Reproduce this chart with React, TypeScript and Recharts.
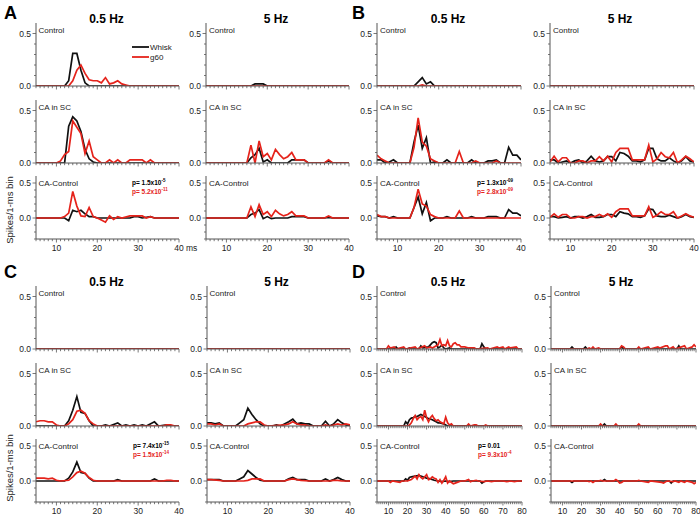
// spike histograms, whisk vs g60, four blocks A-D

import React from 'react';
import { LineChart, Line, XAxis, YAxis } from 'recharts';

type Pt = [number, number];

const msTicks = [10, 20, 30, 40];
const msTicksLong = [10, 20, 30, 40, 50, 60, 70, 80];
const yTicksTop = [0, 0.1, 0.2, 0.3, 0.4, 0.5];
const yTicksDiff = [-0.3, -0.2, -0.1, 0, 0.1, 0.2, 0.3, 0.4, 0.5];
const rowLabels = ['Control', 'CA in SC', 'CA-Control'];
const freqLabels = ['0.5 Hz', '5 Hz'];
const seriesNames = ['Whisk', 'g60'];
const blockLetters = ['A', 'B', 'C', 'D'];

// ---- A ----
const aSlowCtrlWhisk: Pt[] = [[5, 0], [12, 0], [13, 0.05], [14, 0.31], [15, 0.31], [16, 0.15], [17, 0.03], [18, 0], [40, 0]];
const aSlowCtrlG60: Pt[] = [[5, 0], [13, 0], [14, 0.05], [15, 0.15], [16, 0.2], [17, 0.12], [18, 0.06], [19, 0.05], [20, 0.05], [21, 0.03], [22, 0.08], [23, 0.02], [24, 0.03], [25, 0.05], [26, 0.02], [27, 0.01], [28, 0], [40, 0]];
const aSlowCaWhisk: Pt[] = [[5, 0], [12, 0], [13, 0.35], [14, 0.44], [15, 0.4], [16, 0.3], [17, 0.13], [18, 0.04], [19, 0.01], [20, 0], [40, 0]];
const aSlowCaG60: Pt[] = [[5, 0], [10, 0], [11, 0.02], [12, 0.08], [13, 0.11], [14, 0.4], [15, 0.34], [16, 0.28], [17, 0.09], [18, 0.21], [19, 0.06], [20, 0.03], [21, 0], [22, 0], [23, 0.03], [24, 0], [25, 0.03], [26, 0], [27, 0], [28, 0.03], [29, 0.03], [30, 0.03], [31, 0.03], [32, 0], [33, 0.03], [34, 0], [40, 0]];
const aSlowDiffWhisk: Pt[] = [[5, 0], [12, 0], [13, -0.04], [14, 0.11], [15, 0.09], [16, 0.11], [17, 0.06], [18, 0.02], [19, 0.02], [20, 0], [28, 0], [29, 0.02], [30, 0.02], [31, 0], [33, 0.02], [34, 0], [40, 0]];
const aSlowDiffG60: Pt[] = [[5, 0], [11, 0], [12, 0.02], [13, 0.07], [14, 0.38], [15, 0.17], [16, 0.03], [17, 0.02], [18, 0.15], [19, 0.02], [20, 0], [21, -0.03], [22, -0.06], [23, 0.03], [24, -0.02], [25, 0.02], [26, 0], [28, 0.03], [29, 0.03], [30, 0.03], [31, 0.03], [32, 0], [33, 0.02], [34, 0], [40, 0]];

const aFastCtrlWhisk: Pt[] = [[5, 0], [16, 0], [17, 0.02], [18, 0.02], [19, 0.02], [20, 0], [40, 0]];
const aFastCtrlG60: Pt[] = [[5, 0], [40, 0]];
const aFastCaWhisk: Pt[] = [[5, 0], [15, 0], [16, 0.05], [17, 0.08], [18, 0.14], [19, 0.01], [20, 0.03], [21, 0], [25, 0], [26, 0.03], [27, 0.03], [29, 0.03], [30, 0], [34, 0], [35, 0.02], [36, 0], [40, 0]];
const aFastCaG60: Pt[] = [[5, 0], [15, 0], [16, 0.17], [17, 0], [18, 0.21], [19, 0.06], [20, 0.09], [21, 0.03], [22, 0.13], [23, 0.08], [24, 0.04], [25, 0.06], [26, 0.1], [27, 0.03], [28, 0.03], [29, 0.03], [30, 0], [34, 0], [35, 0.03], [36, 0], [40, 0]];
const aFastDiffWhisk: Pt[] = [[5, 0], [15, 0], [16, 0.05], [17, 0.07], [18, 0.12], [19, -0.01], [20, 0.02], [21, -0.01], [22, 0], [25, 0], [26, 0.02], [27, 0.02], [29, 0.02], [30, 0], [34, 0], [35, 0.01], [36, 0], [40, 0]];
const aFastDiffG60: Pt[] = [[5, 0], [15, 0], [16, 0.16], [17, 0.02], [18, 0.19], [19, 0.05], [20, 0.09], [21, 0.02], [22, 0.11], [23, 0.06], [24, 0.03], [25, 0.05], [26, 0.09], [27, 0.03], [28, 0.03], [29, 0.03], [30, 0], [34, 0], [35, 0.03], [36, 0], [40, 0]];

// ---- B ----
const bSlowCtrlWhisk: Pt[] = [[5, 0], [14, 0], [15, 0.04], [16, 0.08], [17, 0.02], [18, 0.04], [19, 0], [40, 0]];
const bSlowCtrlG60: Pt[] = [[5, 0], [15, 0], [16, 0.01], [17, 0], [40, 0]];
const bSlowCaWhisk: Pt[] = [[5, 0.03], [6, 0.03], [7, 0], [8, 0.01], [9, 0.03], [10, 0], [13, 0], [14, 0.2], [15, 0.36], [16, 0.14], [17, 0.24], [18, 0], [19, 0.01], [20, 0], [21, 0], [22, 0.03], [23, 0], [27, 0], [28, 0.03], [29, 0], [31, 0], [32, 0.02], [33, 0.02], [34, 0.03], [35, 0], [36, 0], [37, 0.15], [38, 0.075], [39, 0.075], [40, 0.03]];
const bSlowCaG60: Pt[] = [[5, 0.075], [6, 0.04], [7, 0.02], [8, 0], [13, 0], [14, 0.15], [15, 0.43], [16, 0.2], [17, 0.16], [18, 0.04], [19, 0.02], [20, 0], [24, 0], [25, 0.11], [26, 0], [28, 0], [29, 0.02], [30, 0], [33, 0], [34, 0.02], [35, 0], [40, 0]];
const bSlowDiffWhisk: Pt[] = [[5, 0.03], [6, 0.02], [7, 0.02], [8, 0], [9, 0.02], [10, 0], [13, 0], [14, 0.15], [15, 0.3], [16, 0.06], [17, 0.22], [18, -0.04], [19, 0], [21, 0], [22, 0.02], [23, 0], [27, 0], [28, 0.02], [29, 0], [31, 0], [32, 0.02], [34, 0.02], [35, 0], [36, 0], [37, 0.12], [38, 0.07], [39, 0.07], [40, 0.03]];
const bSlowDiffG60: Pt[] = [[5, 0.05], [6, 0.02], [7, 0.02], [8, 0], [13, 0], [14, 0.15], [15, 0.41], [16, 0.2], [17, 0.17], [18, 0.05], [19, 0.02], [20, 0], [24, 0], [25, 0.1], [26, 0], [40, 0]];

const bFastCtrlWhisk: Pt[] = [[5, 0], [40, 0]];
const bFastCtrlG60: Pt[] = [[5, 0], [40, 0]];
const bFastCaWhisk: Pt[] = [[5, 0.03], [6, 0.03], [7, 0], [8, 0.01], [9, 0.02], [10, 0], [11, 0.02], [12, 0.03], [13, 0], [14, 0.02], [15, 0.065], [16, 0.02], [17, 0.01], [18, 0.02], [19, 0.06], [20, 0.06], [21, 0.02], [22, 0.1], [23, 0.09], [24, 0.065], [25, 0.02], [26, 0.02], [27, 0.01], [28, 0.03], [29, 0.14], [30, 0.14], [31, 0.04], [32, 0.02], [33, 0.02], [34, 0.05], [35, 0.02], [36, 0], [37, 0.02], [38, 0.06], [39, 0.02], [40, 0.01]];
const bFastCaG60: Pt[] = [[5, 0.01], [6, 0.065], [7, 0.01], [8, 0.05], [9, 0.05], [10, 0], [11, 0], [12, 0.02], [13, 0.02], [14, 0], [15, 0.02], [16, 0.02], [17, 0.06], [18, 0.02], [19, 0.065], [20, 0.01], [21, 0.1], [22, 0.14], [23, 0.14], [24, 0.14], [25, 0.03], [26, 0.03], [27, 0.03], [28, 0.03], [29, 0.17], [30, 0.01], [31, 0.04], [32, 0.1], [33, 0.06], [34, 0.05], [35, 0.1], [36, 0], [37, 0.03], [38, 0.065], [39, 0.04], [40, 0.01]];
const bFastDiffWhisk: Pt[] = [[5, 0.02], [6, 0.02], [7, 0], [8, 0.01], [9, 0.02], [10, 0], [11, 0.02], [12, 0.02], [13, 0], [14, 0.02], [15, 0.05], [16, 0.01], [17, 0.01], [18, 0.02], [19, 0.05], [20, 0.05], [21, 0.02], [22, 0.09], [23, 0.07], [24, 0.06], [25, 0.02], [26, 0.02], [27, 0.01], [28, 0.03], [29, 0.13], [30, 0.12], [31, 0.03], [32, 0.02], [33, 0.02], [34, 0.04], [35, 0.02], [36, 0], [37, 0.02], [38, 0.05], [39, 0.02], [40, 0.01]];
const bFastDiffG60: Pt[] = [[5, 0.01], [6, 0.06], [7, 0.01], [8, 0.05], [9, 0.05], [10, 0], [11, 0], [12, 0.02], [13, 0.02], [14, 0], [15, 0.02], [16, 0.02], [17, 0.05], [18, 0.02], [19, 0.06], [20, 0.01], [21, 0.09], [22, 0.13], [23, 0.13], [24, 0.13], [25, 0.03], [26, 0.03], [27, 0.03], [28, 0.03], [29, 0.16], [30, 0.01], [31, 0.04], [32, 0.09], [33, 0.05], [34, 0.05], [35, 0.09], [36, 0], [37, 0.03], [38, 0.06], [39, 0.03], [40, 0.01]];

// ---- C ----
const cSlowCtrlWhisk: Pt[] = [[5, 0], [40, 0]];
const cSlowCtrlG60: Pt[] = [[5, 0], [40, 0]];
const cSlowCaWhisk: Pt[] = [[5, 0], [12, 0], [13, 0.05], [14, 0.15], [15, 0.28], [16, 0.13], [17, 0.12], [18, 0.05], [19, 0], [21, 0], [22, 0.01], [23, 0], [25, 0.03], [26, 0], [27, 0.01], [28, 0], [29, 0.01], [30, 0], [31, 0.01], [32, 0], [34, 0.04], [35, 0], [37, 0.01], [38, 0], [40, 0]];
const cSlowCaG60: Pt[] = [[5, 0.04], [6, 0.05], [7, 0.05], [8, 0.04], [9, 0.04], [10, 0.01], [11, 0], [12, 0], [13, 0.02], [14, 0.06], [15, 0.14], [16, 0.15], [17, 0.12], [18, 0.05], [19, 0.02], [20, 0], [36, 0], [37, 0.01], [38, 0.01], [39, 0], [40, 0]];
const cSlowDiffWhisk: Pt[] = [[5, 0], [12, 0], [13, 0.04], [14, 0.13], [15, 0.27], [16, 0.12], [17, 0.11], [18, 0.04], [19, 0], [24, 0], [25, 0.02], [26, 0], [33, 0], [34, 0.03], [35, 0], [40, 0]];
const cSlowDiffG60: Pt[] = [[5, 0.04], [7, 0.04], [8, 0.03], [9, 0.04], [10, 0.01], [11, 0], [13, 0.01], [14, 0.06], [15, 0.12], [16, 0.14], [17, 0.11], [18, 0.05], [19, 0.01], [20, 0], [36, 0], [37, 0.01], [38, 0.01], [39, 0], [40, 0]];

const cFastCtrlWhisk: Pt[] = [[5, 0], [40, 0]];
const cFastCtrlG60: Pt[] = [[5, 0], [40, 0]];
const cFastCaWhisk: Pt[] = [[5, 0.03], [6, 0.03], [7, 0.02], [8, 0.03], [9, 0], [12, 0], [13, 0.03], [14, 0.06], [15, 0.17], [16, 0.11], [17, 0.06], [18, 0.02], [19, 0], [21, 0], [22, 0.01], [23, 0], [25, 0.04], [26, 0.065], [27, 0.02], [28, 0.03], [29, 0.02], [30, 0.02], [31, 0], [33, 0], [34, 0.045], [35, 0], [36, 0.02], [37, 0.06], [38, 0.03], [39, 0.01], [40, 0]];
const cFastCaG60: Pt[] = [[5, 0.02], [6, 0.02], [7, 0.01], [8, 0.02], [9, 0], [14, 0], [15, 0.02], [16, 0.03], [17, 0.04], [18, 0.04], [19, 0.01], [20, 0], [24, 0.01], [25, 0.02], [26, 0.04], [27, 0.02], [28, 0.01], [29, 0.01], [30, 0], [33, 0], [34, 0.01], [35, 0], [36, 0.01], [37, 0.02], [38, 0.01], [39, 0.02], [40, 0.01]];
const cFastDiffWhisk: Pt[] = [[5, 0.02], [8, 0.02], [9, 0], [12, 0], [13, 0.03], [14, 0.06], [15, 0.15], [16, 0.1], [17, 0.05], [18, 0.01], [19, 0], [24, 0], [25, 0.03], [26, 0.05], [27, 0.02], [29, 0.02], [30, 0], [33, 0], [34, 0.03], [35, 0], [36, 0.02], [37, 0.05], [38, 0.02], [39, 0], [40, 0]];
const cFastDiffG60: Pt[] = [[5, 0.02], [6, 0.02], [8, 0.01], [9, 0], [14, 0], [15, 0.01], [16, 0.03], [17, 0.03], [18, 0.03], [19, 0], [24, 0], [25, 0.02], [26, 0.03], [27, 0.02], [28, 0.01], [30, 0], [35, 0], [36, 0.01], [37, 0.01], [38, 0], [40, 0]];

// ---- D (longer window) ----
const dSlowCtrlWhisk: Pt[] = [[4, 0], [13, 0], [14, 0.02], [15, 0], [20, 0], [21, 0.01], [22, 0], [26, 0], [27, 0.03], [28, 0.01], [31, 0.02], [33, 0.06], [34, 0.07], [35, 0.06], [36, 0.01], [37, 0.02], [38, 0.035], [39, 0.01], [40, 0], [42, 0.01], [43, 0], [58, 0], [59, 0.05], [60, 0.02], [61, 0], [80, 0]];
const dSlowCtrlG60: Pt[] = [[4, 0], [9, 0], [10, 0.03], [11, 0.01], [13, 0.02], [14, 0], [18, 0.02], [19, 0], [24, 0.02], [25, 0], [29, 0.03], [30, 0.01], [32, 0.02], [33, 0.01], [36, 0.04], [37, 0.09], [38, 0.03], [39, 0.04], [40, 0.03], [41, 0.08], [42, 0.03], [43, 0.02], [44, 0.05], [45, 0.06], [46, 0.04], [47, 0.04], [48, 0.02], [50, 0.02], [52, 0.01], [55, 0.01], [56, 0], [62, 0.01], [63, 0], [67, 0.02], [68, 0.01], [70, 0.02], [71, 0], [73, 0.02], [74, 0.01], [77, 0.02], [78, 0], [80, 0]];
const dSlowCaWhisk: Pt[] = [[4, 0], [18, 0], [19, 0.04], [20, 0.02], [21, 0.06], [22, 0.075], [23, 0.08], [24, 0.09], [25, 0.09], [26, 0.1], [27, 0.11], [28, 0.1], [29, 0.09], [30, 0.08], [31, 0.07], [32, 0.065], [33, 0.06], [34, 0.05], [35, 0.04], [36, 0.03], [37, 0.03], [38, 0.025], [39, 0.02], [40, 0.01], [41, 0], [80, 0]];
const dSlowCaG60: Pt[] = [[4, 0], [20, 0], [21, 0.01], [22, 0.03], [23, 0.07], [24, 0.1], [25, 0.06], [26, 0.08], [27, 0.09], [28, 0.06], [29, 0.15], [30, 0.08], [31, 0.04], [32, 0.08], [33, 0.1], [34, 0.07], [35, 0.05], [36, 0.06], [37, 0.04], [38, 0.03], [39, 0.02], [40, 0.085], [41, 0.03], [42, 0.01], [43, 0.02], [44, 0], [51, 0], [52, 0.02], [53, 0], [55, 0.01], [56, 0.01], [57, 0], [60, 0], [61, 0.01], [62, 0], [80, 0]];
const dSlowDiffWhisk: Pt[] = [[4, 0], [18, 0], [19, 0.03], [20, 0.01], [21, 0.05], [22, 0.06], [24, 0.07], [26, 0.08], [28, 0.06], [30, 0.04], [32, 0.03], [34, 0.01], [36, 0], [38, -0.01], [40, 0], [42, -0.01], [44, 0], [58, 0], [59, -0.03], [60, -0.01], [61, 0], [80, 0]];
const dSlowDiffG60: Pt[] = [[4, 0], [10, 0], [11, -0.02], [12, 0], [16, -0.02], [17, 0], [20, 0], [22, 0.02], [24, 0.07], [25, 0.03], [26, 0.09], [27, 0.05], [28, 0.03], [29, 0.06], [30, 0.09], [31, 0.02], [32, 0.03], [33, 0.06], [34, 0.04], [35, 0.03], [36, -0.02], [37, 0.02], [38, -0.03], [39, 0.01], [40, 0.06], [41, -0.03], [42, 0], [44, -0.04], [45, -0.03], [46, -0.02], [47, -0.01], [48, 0], [50, 0], [52, 0.02], [53, -0.01], [54, 0], [56, 0.01], [57, 0], [60, -0.01], [62, 0], [64, -0.01], [66, 0], [70, 0], [72, -0.01], [74, 0], [76, -0.01], [78, 0], [80, 0]];

const dFastCtrlWhisk: Pt[] = [[4, 0], [14, 0], [15, 0.02], [16, 0], [21, 0], [22, 0.02], [23, 0], [40, 0], [41, 0.02], [42, 0], [70, 0], [71, 0.03], [72, 0], [80, 0]];
const dFastCtrlG60: Pt[] = [[4, 0], [23, 0], [24, 0.01], [25, 0], [26, 0.02], [27, 0], [29, 0.01], [30, 0], [40, 0], [41, 0.03], [42, 0.02], [43, 0], [49, 0], [50, 0.02], [51, 0], [55, 0.02], [56, 0], [60, 0.02], [61, 0.01], [64, 0.03], [65, 0.03], [66, 0], [68, 0.02], [69, 0], [74, 0.03], [75, 0], [78, 0.02], [79, 0.04], [80, 0.02]];
const dFastCaWhisk: Pt[] = [[4, 0], [31, 0], [32, 0.02], [33, 0], [80, 0]];
const dFastCaG60: Pt[] = [[4, 0], [29, 0], [30, 0.02], [31, 0], [37, 0], [38, 0.02], [39, 0], [49, 0], [50, 0.02], [51, 0], [80, 0]];
const dFastDiffWhisk: Pt[] = [[4, 0], [14, 0], [15, -0.02], [16, 0], [31, 0], [32, 0.02], [33, 0], [66, 0], [67, -0.03], [68, 0], [80, 0]];
const dFastDiffG60: Pt[] = [[4, 0], [23, 0], [24, -0.01], [25, 0], [26, -0.02], [27, 0], [29, 0], [30, 0.01], [31, 0], [37, 0], [38, 0.02], [39, 0], [40, -0.03], [41, -0.02], [42, 0], [49, 0], [50, 0.01], [51, 0], [55, -0.02], [56, 0], [62, -0.02], [63, -0.03], [64, -0.01], [65, 0], [68, -0.01], [69, 0], [71, -0.02], [72, 0], [74, -0.02], [75, 0], [78, -0.02], [79, -0.04], [80, -0.02]];

const BLACK = '#111111';
const RED = '#e5231b';
const AXIS = '#555555';
const FONT = '"Liberation Sans", Arial, sans-serif';

const toRows = (pts: Pt[]) => pts.map(([x, y]) => ({ x, y }));

const XTick = (props: any) => {
  const { x, y, payload, majors, showLabels } = props;
  const v = payload.value;
  const major = majors.includes(v);
  return (
    <g>
      <line x1={x} y1={y} x2={x} y2={y + (major ? 3.5 : 2.2)} stroke={AXIS} strokeWidth={0.8} />
      {showLabels && major && (
        <text x={x} y={y + 12} textAnchor="middle" fontSize={8.5} fill="#222" fontFamily={FONT}>
          {v}
        </text>
      )}
    </g>
  );
};

const YTick = (props: any) => {
  const { x, y, payload } = props;
  const v = payload.value;
  const major = Math.abs(v) < 1e-6 || Math.abs(v - 0.5) < 1e-6;
  return (
    <g>
      <line x1={x - (major ? 3.5 : 2)} y1={y} x2={x} y2={y} stroke={AXIS} strokeWidth={0.8} />
      {major && (
        <text x={x - 5} y={y + 3} textAnchor="end" fontSize={8.5} fill="#222" fontFamily={FONT}>
          {v.toFixed(1)}
        </text>
      )}
    </g>
  );
};

type PanelProps = {
  ax: number;
  top: number;
  w: number;
  diff: boolean;
  long: boolean;
  whisk: Pt[];
  g60: Pt[];
};

const PLOT_H = 63;

const Panel = ({ ax, top, w, diff, long, whisk, g60 }: PanelProps) => {
  const xMin = long ? 4 : 5;
  const xMax = long ? 80 : 40;
  const minor: number[] = [];
  for (let v = xMin; v <= xMax; v++) minor.push(v);
  const majors = long ? msTicksLong : msTicks;
  const xh = diff ? 16 : 5;
  return (
    <div style={{ position: 'absolute', left: ax - 30, top: top - 4 }}>
      <LineChart width={30 + w + 6} height={4 + PLOT_H + xh} margin={{ top: 4, right: 6, left: 0, bottom: 0 }}>
        <XAxis
          type="number"
          dataKey="x"
          domain={[xMin, xMax]}
          ticks={minor}
          interval={0}
          height={xh}
          tickSize={0}
          tickMargin={0}
          stroke={AXIS}
          allowDataOverflow
          tick={(p: any) => <XTick {...p} majors={majors} showLabels={diff} />}
        />
        <YAxis
          type="number"
          domain={diff ? [-0.3, 0.6] : [0, 0.6]}
          ticks={diff ? yTicksDiff : yTicksTop}
          interval={0}
          width={30}
          tickSize={0}
          tickMargin={0}
          stroke={AXIS}
          allowDataOverflow
          tick={(p: any) => <YTick {...p} />}
        />
        <Line data={toRows(whisk)} dataKey="y" name={seriesNames[0]} stroke={BLACK} strokeWidth={1.7} dot={false} isAnimationActive={false} />
        <Line data={toRows(g60)} dataKey="y" name={seriesNames[1]} stroke={RED} strokeWidth={1.7} dot={false} isAnimationActive={false} />
      </LineChart>
    </div>
  );
};

const blockData = [
  [
    [aSlowCtrlWhisk, aSlowCtrlG60, aSlowCaWhisk, aSlowCaG60, aSlowDiffWhisk, aSlowDiffG60],
    [aFastCtrlWhisk, aFastCtrlG60, aFastCaWhisk, aFastCaG60, aFastDiffWhisk, aFastDiffG60],
  ],
  [
    [bSlowCtrlWhisk, bSlowCtrlG60, bSlowCaWhisk, bSlowCaG60, bSlowDiffWhisk, bSlowDiffG60],
    [bFastCtrlWhisk, bFastCtrlG60, bFastCaWhisk, bFastCaG60, bFastDiffWhisk, bFastDiffG60],
  ],
  [
    [cSlowCtrlWhisk, cSlowCtrlG60, cSlowCaWhisk, cSlowCaG60, cSlowDiffWhisk, cSlowDiffG60],
    [cFastCtrlWhisk, cFastCtrlG60, cFastCaWhisk, cFastCaG60, cFastDiffWhisk, cFastDiffG60],
  ],
  [
    [dSlowCtrlWhisk, dSlowCtrlG60, dSlowCaWhisk, dSlowCaG60, dSlowDiffWhisk, dSlowDiffG60],
    [dFastCtrlWhisk, dFastCtrlG60, dFastCaWhisk, dFastCaG60, dFastDiffWhisk, dFastDiffG60],
  ],
];

// layout
const colX = [
  [35.5, 206],
  [377, 550],
  [35.5, 206.5],
  [377, 551],
];
const rowTops = [
  [23, 100, 176],
  [23, 100, 176],
  [286, 363, 439],
  [286, 363, 439],
];
const plotW = [143, 144, 143, 145];

const pValues = [
  { k: ['p= 1.5x10', '-5'], r: ['p= 5.2x10', '-11'] },
  { k: ['p= 1.3x10', '-09'], r: ['p= 2.8x10', '-09'] },
  { k: ['p= 7.4x10', '-15'], r: ['p= 1.5x10', '-14'] },
  { k: ['p= 0.01', ''], r: ['p= 9.3x10', '-4'] },
];
const pPos = [
  [132, 184.5],
  [477, 184.5],
  [133, 448],
  [478, 448],
];

const App = () => {
  const panels: React.ReactNode[] = [];
  blockData.forEach((cols, b) => {
    cols.forEach((s, c) => {
      for (let r = 0; r < 3; r++) {
        panels.push(
          <Panel
            key={`${b}-${c}-${r}`}
            ax={colX[b][c]}
            top={rowTops[b][r]}
            w={plotW[b]}
            diff={r === 2}
            long={b === 3}
            whisk={s[r * 2]}
            g60={s[r * 2 + 1]}
          />
        );
      }
    });
  });

  return (
    <div style={{ position: 'absolute', left: 0, top: 0, width: 700, height: 516, background: '#fff', overflow: 'hidden' }}>
      {panels}
      <svg width={700} height={516} style={{ position: 'absolute', left: 0, top: 0, pointerEvents: 'none' }} fontFamily={FONT}>
        {blockLetters.map((L, b) => (
          <text key={L} x={b % 2 === 0 ? 4 : 352} y={b < 2 ? 19 : 278} fontSize={18} fontWeight="bold" fill="#000">
            {L}
          </text>
        ))}
        {blockLetters.map((L, b) =>
          freqLabels.map((f, c) => (
            <text key={L + f} x={colX[b][c] + (c === 0 ? 71 : 70)} y={rowTops[b][0]} textAnchor="middle" fontSize={12} fontWeight="bold" fill="#000">
              {f}
            </text>
          ))
        )}
        {blockLetters.map((L, b) =>
          [0, 1].map((c) =>
            rowLabels.map((lab, r) => (
              <text key={L + c + lab} x={colX[b][c] + 3} y={rowTops[b][r] + 10} fontSize={8} fill="#222">
                {lab}
              </text>
            ))
          )
        )}
        {[210, 468].map((cy) => (
          <text key={cy} x={0} y={0} transform={`translate(13, ${cy}) rotate(-90)`} textAnchor="middle" fontSize={9.5} fill="#222">
            Spikes/1-ms bin
          </text>
        ))}
        <text x={186} y={251} fontSize={8.5} fill="#222">ms</text>
        <line x1={132} y1={47} x2={149} y2={47} stroke={BLACK} strokeWidth={1.8} />
        <text x={150} y={50} fontSize={8} fill="#222">{seriesNames[0]}</text>
        <line x1={132} y1={57} x2={149} y2={57} stroke={RED} strokeWidth={1.8} />
        <text x={150} y={60} fontSize={8} fill="#222">{seriesNames[1]}</text>
        {pValues.map((p, b) => (
          <g key={b}>
            <text x={pPos[b][0]} y={pPos[b][1]} fontSize={6.5} fontWeight="bold" fill="#000">
              {p.k[0]}
              {p.k[1] && <tspan dy={-3} fontSize={4.5}>{p.k[1]}</tspan>}
            </text>
            <text x={pPos[b][0]} y={pPos[b][1] + 9} fontSize={6.5} fontWeight="bold" fill={RED}>
              {p.r[0]}
              {p.r[1] && <tspan dy={-3} fontSize={4.5}>{p.r[1]}</tspan>}
            </text>
          </g>
        ))}
      </svg>
    </div>
  );
};

export default App;
